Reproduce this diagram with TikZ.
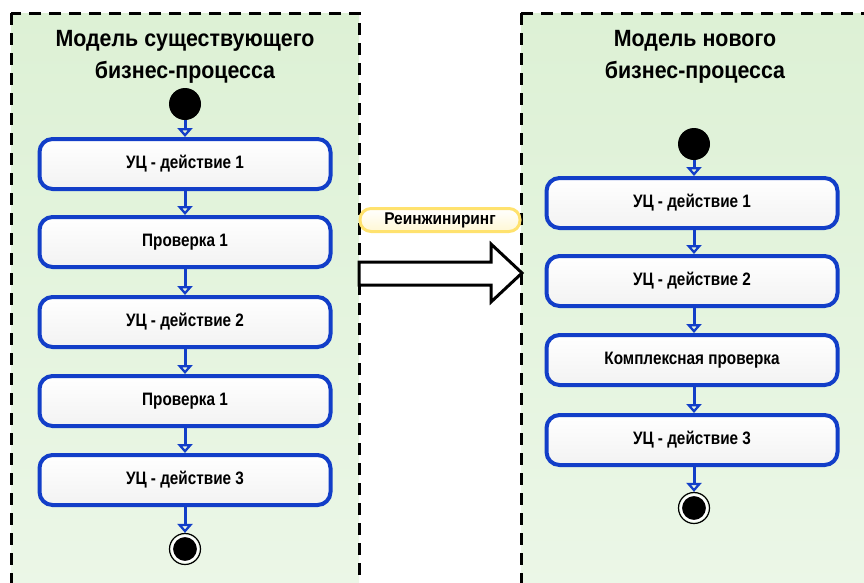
\documentclass[tikz,border=0pt]{standalone}
\usepackage{fontspec}
\setmainfont{Liberation Sans}
\newfontfamily\narrowsans[FakeStretch=0.91]{Liberation Sans}
\newfontfamily\condsans[FakeStretch=0.85]{Liberation Sans}
\usetikzlibrary{arrows.meta}

\definecolor{flowblue}{RGB}{18,62,200}
\definecolor{panelgreen}{RGB}{221,241,213}
\definecolor{panelgreenlight}{RGB}{236,247,232}
\definecolor{tagborder}{RGB}{255,226,110}
\definecolor{tagfill}{RGB}{255,247,212}

\tikzset{
  panel/.style={draw=black, line width=3pt, dash pattern=on 12pt off 8pt,
    top color=panelgreen, bottom color=panelgreenlight},
  paneltitle/.style={font=\narrowsans\bfseries\fontsize{23.5}{32}\selectfont,
    align=center},
  activity/.style={rectangle, rounded corners=13pt, draw=flowblue, line width=4pt,
    minimum width=291pt, minimum height=50pt, top color=white, bottom color=black!5,
    font=\condsans\bfseries\fontsize{18}{21}\selectfont},
  startnode/.style={circle, fill=black, minimum size=32pt, inner sep=0pt},
  endnode/.style={circle, fill=black, draw=white, line width=2pt,
    minimum size=26pt, inner sep=0pt},
  endring/.style={circle, draw=black, line width=1.2pt, minimum size=31pt, inner sep=0pt},
  flow/.style={draw=flowblue, line width=3pt,
    -{Triangle[open, length=9pt, width=15pt, line width=2.5pt]}},
  tag/.style={rectangle, rounded corners=11pt, draw=tagborder, line width=3pt,
    top color=white, bottom color=tagfill, minimum width=160pt, minimum height=23pt,
    font=\narrowsans\bfseries\fontsize{17}{20}\selectfont},
  bigarrow/.style={draw=black, line width=3pt, fill=white, line join=miter},
}

\begin{document}
\begin{tikzpicture}[x=1pt, y=-1pt]
  \useasboundingbox (0,0) rectangle (864,582);
  \clip (0,0) rectangle (864,582);

  % swim-lane panels (their lower edges run past the page)
  \path[panel] (11,13) rectangle (359,620);
  \path[panel] (521,13) rectangle (900,620);

  % ---- current process ----
  \node[paneltitle] (tL) at (185,57) {Модель существующего\\бизнес-процесса};
  \node[startnode] (sL) at (185,104) {};
  \node[activity] (a1) at (185,164) {УЦ - действие 1};
  \node[activity] (a2) at (185,242) {Проверка 1};
  \node[activity] (a3) at (185,322) {УЦ - действие 2};
  \node[activity] (a4) at (185,401) {Проверка 1};
  \node[activity] (a5) at (185,480) {УЦ - действие 3};
  \node[endring] (eLr) at (185,549) {};
  \node[endnode] (eL) at (185,549) {};

  \draw[flow] (sL.south) -- (a1.north);
  \draw[flow] (a1) -- (a2);
  \draw[flow] (a2) -- (a3);
  \draw[flow] (a3) -- (a4);
  \draw[flow] (a4) -- (a5);
  \draw[flow] (a5.south) -- (eLr.north);

  % ---- new process ----
  \node[paneltitle] (tR) at (695,57) {Модель нового\\бизнес-процесса};
  \node[startnode] (sR) at (694,144) {};
  \node[activity] (b1) at (692,203) {УЦ - действие 1};
  \node[activity] (b2) at (692,281) {УЦ - действие 2};
  \node[activity] (b3) at (692,360) {Комплексная проверка};
  \node[activity] (b4) at (692,440) {УЦ - действие 3};
  \node[endring] (eRr) at (694,508) {};
  \node[endnode] (eR) at (694,508) {};

  \draw[flow] (sR.south) -- (sR.south |- b1.north);
  \draw[flow] (b1.south -| sR) -- (b2.north -| sR);
  \draw[flow] (b2.south -| sR) -- (b3.north -| sR);
  \draw[flow] (b3.south -| sR) -- (b4.north -| sR);
  \draw[flow] (b4.south -| sR) -- (eRr.north);

  % ---- transition between the two models ----
  \node[tag] (re) at (440,220) {Реинжиниринг};
  \path[bigarrow] (359,262) -- (491,262) -- (491,244) -- (522,273)
    -- (491,302) -- (491,285) -- (359,285) -- cycle;
\end{tikzpicture}
\end{document}
